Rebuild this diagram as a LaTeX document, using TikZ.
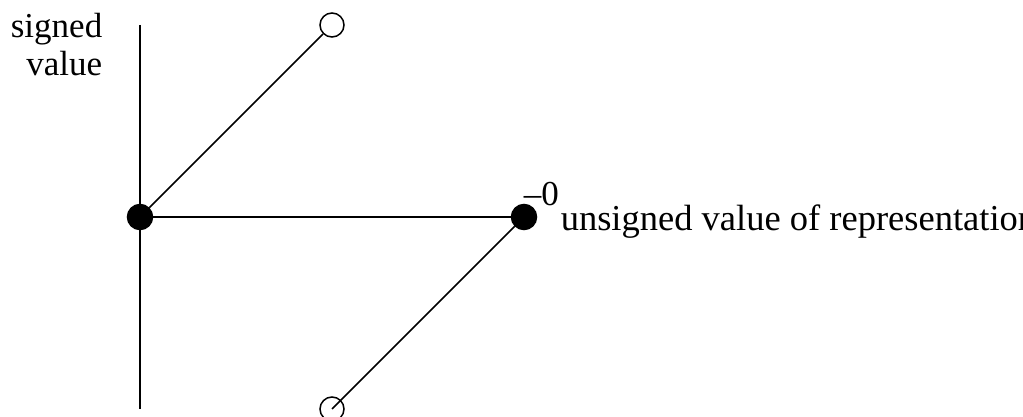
\documentclass[tikz,border=0pt]{standalone}
\usepackage{fontspec}
\setmainfont{Liberation Serif}
\begin{document}
\begin{tikzpicture}[x=1pt,y=-1pt, line width=1.5pt,
  dotfill/.style={circle,fill=black,draw=black,minimum size=25pt,inner sep=0pt},
  hollow/.style={circle,draw=black,fill=none,minimum size=24pt,inner sep=0pt},
  lbl/.style={font=\fontsize{35}{38}\selectfont, inner sep=0pt}]
\useasboundingbox (0,0) rectangle (1023,417);
\clip (0,0) rectangle (1023,417);
\coordinate (axtop) at (140,25);
\coordinate (axbot) at (140,409);
\draw (axtop) -- (axbot);
\node[dotfill] (O) at (140,217) {};
\node[dotfill] (R) at (524,217) {};
\node[hollow] (T) at (332,25) {};
\node[hollow] (B) at (332,409) {};
\draw (O) -- (T);
\draw (O) -- (R);
\draw (R) -- (B.center);
\node[lbl, align=right, anchor=north east] (ylab) at (103,12) {signed\\value};
\node[lbl, anchor=base west] (mz) at (523,205) {–0};
\node[lbl, font=\fontsize{36.5}{40}\selectfont, anchor=base west] (xlab) at (560,230) {unsigned value of representation};
\end{tikzpicture}
\end{document}
